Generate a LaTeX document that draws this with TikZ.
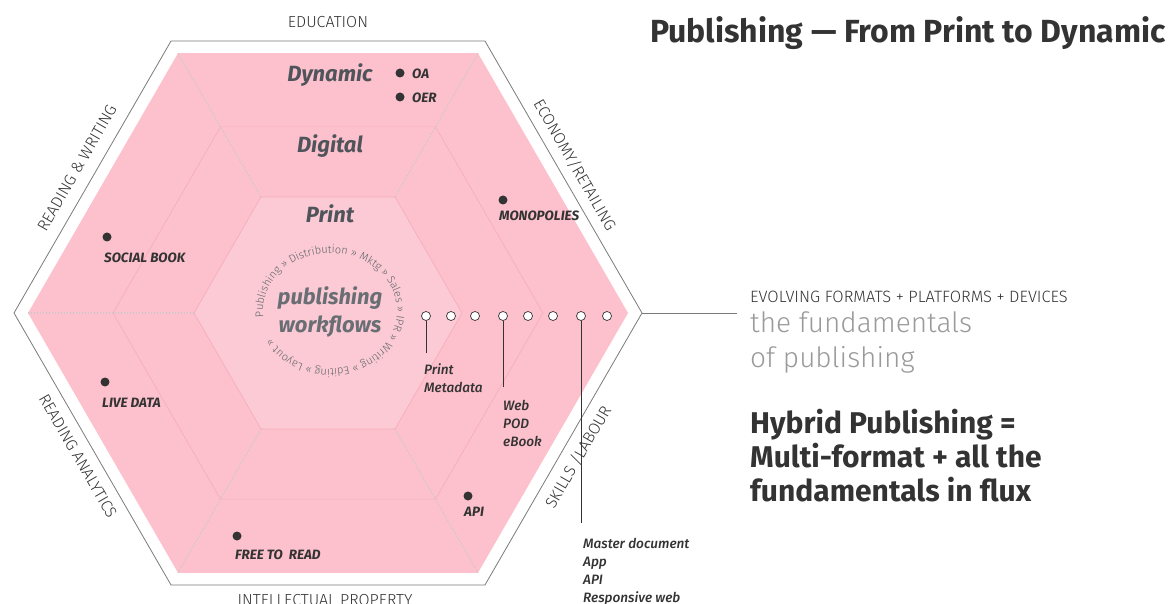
\documentclass[tikz,border=0pt]{standalone}
\usepackage{fontspec}
\setmainfont{Fira Sans}
\newfontfamily\lightfont{Fira Sans Light}
\newfontfamily\medfont{Fira Sans Medium}
\usetikzlibrary{positioning, decorations.text}
\definecolor{hexpink}{HTML}{FCC1CD}
\definecolor{innerpink}{HTML}{FBCAD4}
\definecolor{edgepink}{HTML}{F6ABBB}
\definecolor{framegray}{HTML}{7A7A7A}
\definecolor{ink}{HTML}{333333}
\definecolor{slate}{HTML}{4F545B}
\definecolor{dotgray}{HTML}{C8C8C8}
\definecolor{softgray}{HTML}{9A9A9A}

\begin{document}
\begin{tikzpicture}[
    x=1pt, y=-1pt,
    frameline/.style={draw=framegray, line width=0.8pt},
    ringline/.style={draw=edgepink, line width=0.6pt},
    radial/.style={draw=dotgray, line width=1.1pt, dash pattern=on 1.2pt off 1.8pt},
    level/.style={font=\fontsize{22}{24}\selectfont\bfseries\itshape, text=slate, inner sep=0pt, anchor=base},
    bullet/.style={circle, fill=ink, inner sep=0pt, minimum size=9pt},
    ringdot/.style={circle, draw=ink, fill=white, line width=0.7pt, inner sep=0pt, minimum size=9pt},
    tag/.style={font=\fontsize{13.5}{14}\selectfont\bfseries\itshape, text=ink, anchor=base west, inner sep=0pt},
    fmt/.style={font=\medfont\fontsize{13.6}{18}\selectfont\itshape, text=ink, align=left, anchor=base west, inner sep=0pt},
    side/.style={font=\lightfont\fontsize{16}{16}\selectfont, text=ink, inner sep=0pt},
    every node/.style={align=center}
]
    \newcommand{\hexagon}[2]{
        \draw[#1] (328,313) +(0:#2) -- +(60:#2) -- +(120:#2) -- +(180:#2) -- +(240:#2) -- +(300:#2) -- cycle;
    }
    \useasboundingbox (0,0) rectangle (1171,604);

    % rings of the hexagon
    \hexagon{frameline}{314}
    \hexagon{fill=hexpink, draw=none}{300}
    \hexagon{ringline}{215}
    \hexagon{ringline, fill=innerpink}{134}
    \foreach \a in {60,120,180,240,300}
        \draw[radial] (328,313) ++(\a:134) -- ++(\a:166);

    % labels round the frame
    \node[side] (edu) at (328,22) {EDUCATION};
    \node[side, rotate=60] (rw) at (77,168) {READING \& WRITING};
    \node[side, rotate=-60] (econ) at (575,165) {ECONOMY/RETAILING};
    \node[side, rotate=-60] (ana) at (78,456) {READING ANALYTICS};
    \node[side, rotate=60] (skills) at (578,457) {SKILLS /LABOUR};
    \node[side] (ip) at (325,600) {INTELLECTUAL PROPERTY};

    \node[level] (dyn) at (330,82) {Dynamic};
    \node[level] (dig) at (330,153) {Digital};
    \node[level] (print) at (330,223) {Print};

    \node[font=\fontsize{22}{28}\selectfont\bfseries\itshape, text=slate!85] (wf) at (330,312) {publishing\\workflows};
    \path[decorate, decoration={text along path, text color=slate!90,
        text={|\lightfont\fontsize{11}{11}\selectfont|Publishing » Distribution » Mktg » Sales » IPR » Writing » Editing » Layout »}}]
        (330,311) ++(174:67 and 58) arc (174:534:67 and 58);

    % dots
    \node[bullet] (boa) at (400,73) {};
    \node[tag] (oa) at (412,79) {OA};
    \node[bullet] (boer) at (400,97) {};
    \node[tag] (oer) at (412,103) {OER};
    \node[bullet] (bmono) at (503,200) {};
    \node[tag] (mono) at (499,221) {MONOPOLIES};
    \node[bullet] (bsoc) at (107,237) {};
    \node[tag] (soc) at (104,263) {SOCIAL BOOK};
    \node[bullet] (blive) at (105,382) {};
    \node[tag] (live) at (102,407) {LIVE DATA};
    \node[bullet] (bfree) at (237,536) {};
    \node[tag] (free) at (235,559) {FREE TO\ \ READ};
    \node[bullet] (bapi) at (468,496) {};
    \node[tag] (api) at (464,516) {API};

    % row of formats
    \foreach \x [count=\i] in {426,451,475,503,528,553,581,607}
        \node[ringdot] (rd\i) at (\x,316) {};
    \coordinate (e1) at (426,353);
    \coordinate (e4) at (503,387);
    \coordinate (e7) at (581,523);
    \draw[ink, line width=0.7pt] (rd1) -- (e1);
    \draw[ink, line width=0.7pt] (rd4) -- (e4);
    \draw[ink, line width=0.7pt] (rd7) -- (e7);
    \node[fmt] (pm) at (424,392) {Print\\Metadata};
    \node[fmt] (web) at (503,446) {Web\\POD\\eBook};
    \node[fmt] (master) at (583,602) {Master document\\App\\API\\Responsive web};

    % right hand text
    \coordinate (rv) at (642,313);
    \coordinate (lend) at (737,313);
    \draw[framegray, line width=0.8pt] (rv) -- (lend);
    \node[font=\fontsize{32}{32}\selectfont\bfseries, text=ink, anchor=base west, inner sep=0pt] (title) at (650,43) {Publishing — From Print to Dynamic};
    \node[side, anchor=base west, font=\lightfont\fontsize{16.4}{16.4}\selectfont] (evolve) at (750,302) {EVOLVING FORMATS + PLATFORMS + DEVICES};
    \node[font=\lightfont\fontsize{28}{35}\selectfont, text=softgray, align=left, anchor=base west, inner sep=0pt] (fund) at (750,367) {the fundamentals\\of publishing};
    \node[font=\fontsize{30}{34}\selectfont\bfseries, text=ink, align=left, anchor=base west, inner sep=0pt] (hybrid) at (750,501) {Hybrid Publishing =\\Multi-format + all the\\fundamentals in flux};
\end{tikzpicture}
\end{document}
